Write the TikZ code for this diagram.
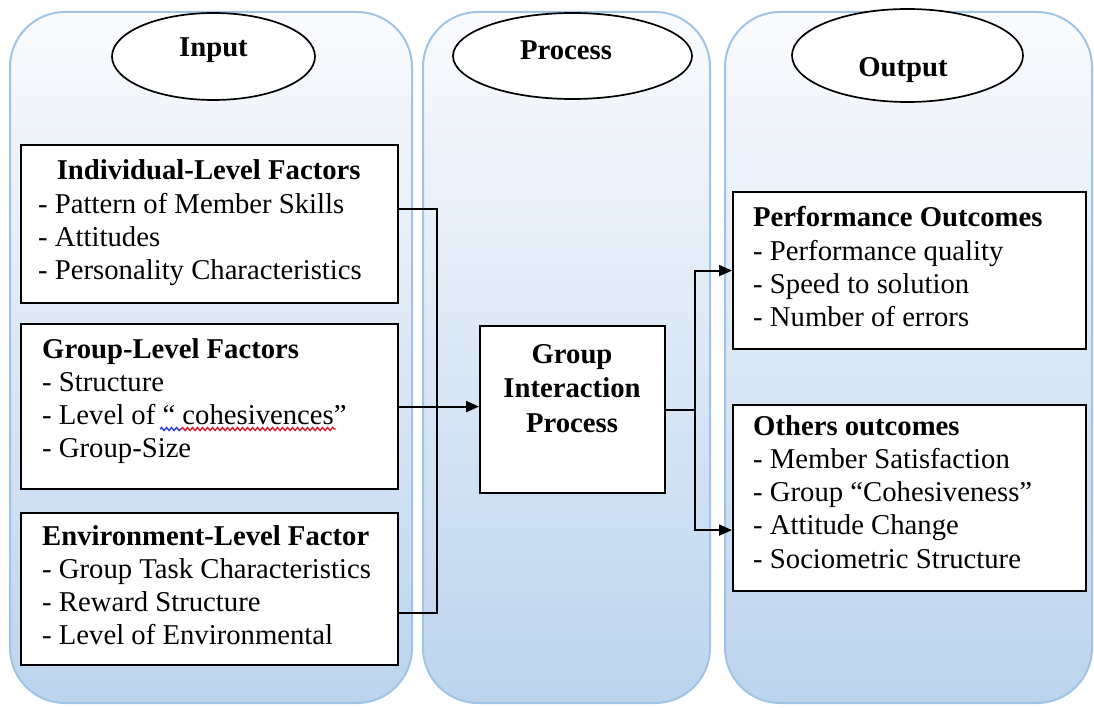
\documentclass[tikz,border=0pt]{standalone}
\usepackage{fontspec}
\setmainfont{Liberation Serif}
\usetikzlibrary{shapes.geometric,arrows.meta,decorations.pathmorphing}
\definecolor{panelborder}{RGB}{160,196,230}
\definecolor{paneltop}{RGB}{250,251,253}
\definecolor{panelmid}{RGB}{226,236,247}
\definecolor{panelbot}{RGB}{188,212,238}
\definecolor{squigred}{RGB}{220,30,50}
\definecolor{squigblue}{RGB}{40,60,220}
\tikzset{
  panel/.style={draw=panelborder,line width=2pt,rounded corners=55pt,
    top color=paneltop,middle color=panelmid,bottom color=panelbot},
  oval/.style={draw=black,line width=1.7pt,fill=white,ellipse,inner sep=0pt},
  factbox/.style={draw=black,line width=2.2pt,fill=white,anchor=north west,inner sep=0pt},
  txt/.style={anchor=base west,inner sep=0pt,font=\fontsize{28.7}{33.3}\selectfont},
  ttl/.style={anchor=base,inner sep=0pt,font=\fontsize{28.7}{33.3}\selectfont\bfseries},
  conn/.style={draw=black,line width=2.1pt},
  arr/.style={conn,-{Triangle[length=13pt,width=11pt]}},
  squig/.style={line width=1.4pt,decorate,decoration={snake,amplitude=1.5pt,segment length=5pt}}
}
\begin{document}
\begin{tikzpicture}[x=1pt,y=-1pt]
\useasboundingbox (0,0) rectangle (1094,708);
\fill[white] (0,0) rectangle (1094,708);
% panels
\path[panel] (10,12) rectangle (412,703);
\path[panel] (423,12) rectangle (710,703);
\path[panel] (725,12) rectangle (1092,703);
% ellipses
\node[oval,minimum width=203pt,minimum height=87pt] (inel) at (213.5,56.5) {};
\node[oval,minimum width=239pt,minimum height=86pt] (prel) at (572.5,56) {};
\node[oval,minimum width=231pt,minimum height=93pt] (outel) at (907.5,55.5) {};
\node[ttl] (inlbl) at (213.5,57) {Input};
\node[ttl] (prlbl) at (566,60) {Process};
\node[ttl] (outlbl) at (903,77) {Output};
% boxes
\node[factbox,minimum width=377pt,minimum height=158pt] (ind) at (20,144) {};
\node[factbox,minimum width=377pt,minimum height=165pt] (grp) at (20,323) {};
\node[factbox,minimum width=377pt,minimum height=152pt] (env) at (20,512) {};
\node[factbox,minimum width=185pt,minimum height=167pt] (proc) at (479,325) {};
\node[factbox,minimum width=353pt,minimum height=157pt] (perf) at (732,191) {};
\node[factbox,minimum width=353pt,minimum height=186pt] (oth) at (732,404) {};
% texts
\node[txt] (indt) at (38,180) {\parbox[t]{341pt}{\raggedright\makebox[341pt][c]{\textbf{Individual-Level Factors}}\\- Pattern of Member Skills\\- Attitudes\\- Personality Characteristics}};
\node[txt] (grpt) at (42,358) {\parbox[t]{350pt}{\raggedright\textbf{Group-Level Factors}\\- Structure\\- Level of “ cohesivences”\\- Group-Size}};
\node[txt] (envt) at (42,545) {\parbox[t]{350pt}{\raggedright\textbf{Environment-Level Factor}\\- Group Task Characteristics\\- Reward Structure\\- Level of Environmental}};
\node[txt] (perft) at (753,227) {\parbox[t]{330pt}{\raggedright\textbf{Performance Outcomes}\\- Performance quality\\- Speed to solution\\- Number of errors}};
\node[txt] (otht) at (753,435) {\parbox[t]{330pt}{\raggedright\textbf{Others outcomes}\\- Member Satisfaction\\- Group “Cohesiveness”\\- Attitude Change\\- Sociometric Structure}};
\node[ttl,font=\fontsize{28.7}{34.5}\selectfont\bfseries] (proct) at (572,363) {\parbox[t]{180pt}{\centering Group\\Interaction\\Process}};
% spell-check squiggles
\draw[squig,draw=squigblue] (160,429) -- (181,429);
\draw[squig,draw=squigred] (181,429) -- (336,429);
% connectors
\coordinate[xshift=38pt] (jl) at (grp.east);
\coordinate[xshift=29pt] (jr) at (proc.east);
\draw[conn] ([yshift=15pt]ind.east) -| (jl);
\draw[conn] ([yshift=-24pt]env.east) -| (jl);
\draw[arr] (grp.east) -- (proc.west |- grp.east);
\draw[conn] (proc.east) -- (jr);
\draw[arr] (jr) |- (perf.west);
\draw[arr] (jr) |- ([yshift=-32pt]oth.west);
\end{tikzpicture}
\end{document}
